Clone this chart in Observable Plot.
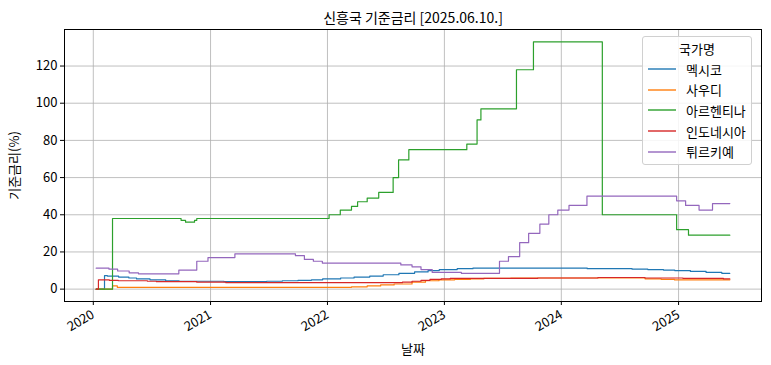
<!DOCTYPE html>
<html>
<head>
<meta charset="utf-8">
<script src="https://cdn.jsdelivr.net/npm/d3@7"></script>
<script src="https://cdn.jsdelivr.net/npm/@observablehq/plot@0.6"></script>
<style>
  html, body { margin: 0; padding: 0; background: #fff; }
  #wrap { position: relative; width: 771px; height: 365px; font-family: "Noto Sans CJK KR", "Noto Sans", sans-serif; }
  #legend { position: absolute; left: 642px; top: 36px; width: 110px; height: 129px; box-sizing: border-box;
    border: 1px solid #d0d0d0; border-radius: 3px; background: rgba(255,255,255,0.85); font-size: 13px; color: #000; }
  #legend .ttl { text-align: center; margin-top: 2px; height: 20px; line-height: 20px; }
  #legend .row { display: flex; align-items: center; height: 20.6px; }
  #legend svg { margin-left: 5px; margin-right: 10px; }
</style>
</head>
<body>
<div id="wrap"><div id="legend"></div></div>
<script>
// ---- data ----
const countries = ["멕시코", "사우디", "아르헨티나", "인도네시아", "튀르키예"];
const colors = ["#1f77b4", "#ff7f0e", "#2ca02c", "#d62728", "#9467bd"];
const titleText = "신흥국 기준금리 [2025.06.10.]";
const legendTitle = "국가명";
const xLabel = "날짜";
const yLabel = "기준금리(%)";
const tickYears = [2020, 2021, 2022, 2023, 2024, 2025];
const yTicks = [0, 20, 40, 60, 80, 100, 120];
const startDate = "2020-01-10";
const endDate = "2025-06-10";

const mexicoDates = ["2020-01-10","2020-02-05","2020-02-14","2020-03-20","2020-04-21","2020-05-15","2020-06-26","2020-08-14","2020-09-25","2021-02-12","2021-06-25","2021-08-13","2021-10-01","2021-11-12","2021-12-17","2022-02-11","2022-03-25","2022-05-13","2022-06-24","2022-08-12","2022-09-30","2022-11-11","2022-12-16","2023-02-10","2023-03-31","2024-03-22","2024-08-09","2024-09-27","2024-11-15","2024-12-20","2025-02-07","2025-03-28","2025-05-16","2025-06-10"];
const mexicoRates = [0,7.25,7.0,6.5,6.0,5.5,5.0,4.5,4.25,4.0,4.25,4.5,4.75,5.0,5.5,6.0,6.5,7.0,7.75,8.5,9.25,10.0,10.5,11.0,11.25,11.0,10.75,10.5,10.25,10.0,9.5,9.0,8.5,8.5];

const saudiDates = ["2020-01-10","2020-03-01","2020-03-16","2022-03-17","2022-05-05","2022-06-16","2022-07-28","2022-09-22","2022-11-03","2022-12-15","2023-02-02","2023-03-23","2023-05-04","2023-07-27","2024-09-19","2024-11-08","2024-12-19","2025-06-10"];
const saudiRates = [0,1.75,1.0,1.25,1.75,2.25,2.75,3.75,4.5,5.0,5.25,5.5,5.75,6.0,5.5,5.25,5.0,5.0];

const argentinaDates = ["2020-01-10","2020-03-01","2020-10-01","2020-10-15","2020-11-12","2020-11-19","2022-01-06","2022-02-10","2022-03-17","2022-04-05","2022-05-05","2022-06-10","2022-07-25","2022-08-11","2022-09-12","2023-03-12","2023-04-13","2023-04-25","2023-08-14","2023-10-06","2024-05-08","2024-12-26","2025-02-01","2025-06-10"];
const argentinaRates = [0,38,37,36,37,38,40,42.5,44.5,47,49,52,60,69.5,75,78,91,97,118,133,40,32,29,29];

const indonesiaDates = ["2020-01-10","2020-01-17","2020-02-20","2020-03-19","2020-06-18","2020-07-16","2020-11-19","2021-02-18","2022-08-23","2022-09-22","2022-10-20","2022-11-17","2022-12-22","2023-01-19","2023-10-19","2024-04-24","2024-09-18","2025-01-15","2025-05-21","2025-06-10"];
const indonesiaRates = [0,5.0,4.75,4.5,4.25,4.0,3.75,3.5,3.75,4.25,4.75,5.25,5.5,5.75,6.0,6.25,6.0,5.75,5.5,5.5];

const turkeyDates = ["2020-01-10","2020-02-19","2020-03-17","2020-04-22","2020-05-21","2020-09-24","2020-11-19","2020-12-24","2021-03-18","2021-09-23","2021-10-21","2021-11-18","2021-12-16","2022-08-18","2022-09-22","2022-10-20","2022-11-24","2023-02-23","2023-06-22","2023-07-20","2023-08-24","2023-09-21","2023-10-26","2023-11-23","2023-12-21","2024-01-25","2024-03-21","2024-12-26","2025-01-23","2025-03-06","2025-04-17","2025-06-10"];
const turkeyRates = [11.25,10.75,9.75,8.75,8.25,10.25,15,17,19,18,16,15,14,13,12,10.5,9,8.5,15,17.5,25,30,35,40,42.5,45,50,47.5,45,42.5,46,46];

// ---- build table ----
const seriesDates = [mexicoDates, saudiDates, argentinaDates, indonesiaDates, turkeyDates];
const seriesRates = [mexicoRates, saudiRates, argentinaRates, indonesiaRates, turkeyRates];
const rows = [];
countries.forEach((c, i) => {
  seriesDates[i].forEach((d, j) => rows.push({country: c, date: new Date(d + "T00:00:00Z"), value: seriesRates[i][j]}));
});

const t0 = new Date(startDate + "T00:00:00Z"), t1 = new Date(endDate + "T00:00:00Z");
const span = t1 - t0;
const xDomain = [new Date(+t0 - 0.05 * span), new Date(+t1 + 0.05 * span)];
const yMax = d3.max(rows, d => d.value), yMin = 0;
const yDomain = [yMin - 0.05 * (yMax - yMin), yMax + 0.05 * (yMax - yMin)];
const xTicks = tickYears.map(y => new Date(Date.UTC(y, 0, 1)));

const chart = Plot.plot({
  width: 771,
  height: 365,
  marginLeft: 64,
  marginRight: 10,
  marginTop: 29,
  marginBottom: 64,
  style: {fontFamily: '"Noto Sans CJK KR", "Noto Sans", sans-serif', fontSize: "13px", color: "#000", background: "#fff"},
  x: {type: "utc", domain: xDomain},
  y: {domain: yDomain},
  color: {domain: countries, range: colors},
  marks: [
    Plot.gridX(xTicks, {stroke: "#b0b0b0", strokeOpacity: 1, strokeWidth: 0.8}),
    Plot.gridY(yTicks, {stroke: "#b0b0b0", strokeOpacity: 1, strokeWidth: 0.8}),
    Plot.line(rows, {x: "date", y: "value", z: "country", stroke: "country", curve: "step-after", strokeWidth: 1.2}),
    Plot.axisX(xTicks, {tickFormat: d3.utcFormat("%Y"), tickRotate: -30, tickSize: 4, tickPadding: 8, fontSize: 13,
      label: xLabel, labelAnchor: "center", labelArrow: "none", labelOffset: 52}),
    Plot.axisY(yTicks, {tickSize: 4, tickPadding: 3, fontSize: 13,
      label: yLabel, labelAnchor: "center", labelArrow: "none", labelOffset: 55}),
    Plot.frame({stroke: "#000", strokeWidth: 1}),
    Plot.text([titleText], {frameAnchor: "top", lineAnchor: "bottom", dy: -7, fontSize: 14, text: d => d})
  ]
});
document.getElementById("wrap").prepend(chart);

// ---- legend (HTML overlay, upper right) ----
const leg = document.getElementById("legend");
const t = document.createElement("div");
t.className = "ttl"; t.textContent = legendTitle; leg.appendChild(t);
countries.forEach((c, i) => {
  const r = document.createElement("div"); r.className = "row";
  r.innerHTML = `<svg width="28" height="4"><line x1="0" x2="28" y1="2" y2="2" stroke="${colors[i]}" stroke-width="1.4"/></svg><span>${c}</span>`;
  leg.appendChild(r);
});
</script>
</body>
</html>
